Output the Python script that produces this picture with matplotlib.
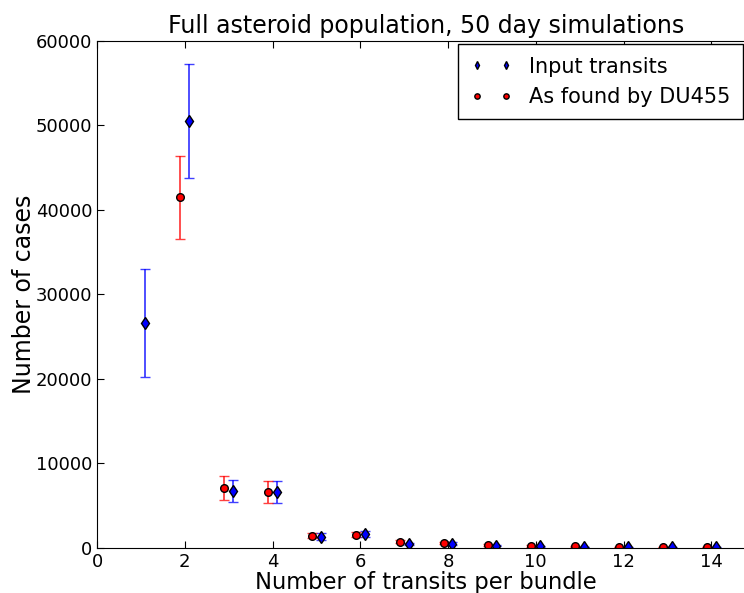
import numpy as np
import matplotlib.pyplot as plt

# Number of transits per bundle
n_input = [1, 2, 3, 4, 5, 6, 7, 8, 9, 10, 11, 12, 13, 14]
n_found = [2, 3, 4, 5, 6, 7, 8, 9, 10, 11, 12, 13, 14]

# Input transits (blue)
input_cases = [26600, 50480, 6760, 6640, 1300, 1620, 430, 470, 230, 150, 100, 50, 50, 30]
input_err = [6400, 6750, 1300, 1300, 400, 400, 150, 150, 80, 60, 40, 30, 30, 20]

# As found by DU455 (red)
found_cases = [41470, 7040, 6640, 1420, 1540, 710, 590, 310, 200, 150, 100, 80, 50]
found_err = [4880, 1440, 1300, 300, 300, 150, 120, 80, 60, 50, 40, 30, 20]

plt.rcParams['xtick.direction'] = 'in'
plt.rcParams['ytick.direction'] = 'in'
plt.rcParams['xtick.top'] = True
plt.rcParams['ytick.right'] = True

fig = plt.figure(figsize=(7.44, 5.93), dpi=100)
ax = fig.add_axes([0.1304, 0.0764, 0.8846, 0.8545])

xb = np.array(n_input) + 0.1
xr = np.array(n_found) - 0.1

# error bars first, then markers on top
ax.errorbar(xb, input_cases, yerr=input_err, fmt='none', ecolor='blue',
            alpha=0.75, capsize=3.5, elinewidth=1.3)
ax.errorbar(xr, found_cases, yerr=found_err, fmt='none', ecolor='red',
            alpha=0.75, capsize=3.5, elinewidth=1.3)
ax.plot(xb, input_cases, 'd', color='blue', markeredgecolor='black',
        markersize=6, label='Input transits')
ax.plot(xr, found_cases, 'o', color='red', markeredgecolor='black',
        markersize=5.5, label='As found by DU455')

ax.set_xlim(0, 15)
ax.set_ylim(0, 60000)
ax.set_xticks(range(0, 16, 2))
ax.set_yticks(range(0, 60001, 10000))
ax.tick_params(labelsize=13, length=5)

ax.set_title('Full asteroid population, 50 day simulations', fontsize=17)
ax.set_xlabel('Number of transits per bundle', fontsize=16.3, labelpad=0)
ax.set_ylabel('Number of cases', fontsize=17, labelpad=0)

leg = ax.legend(loc='upper right', bbox_to_anchor=(0.981, 0.994), numpoints=2,
                fontsize=15, fancybox=False, edgecolor='black',
                framealpha=1, markerscale=0.7, borderaxespad=0, borderpad=0.6)
leg.get_frame().set_linewidth(1.0)

plt.savefig('out.png', dpi=100)
